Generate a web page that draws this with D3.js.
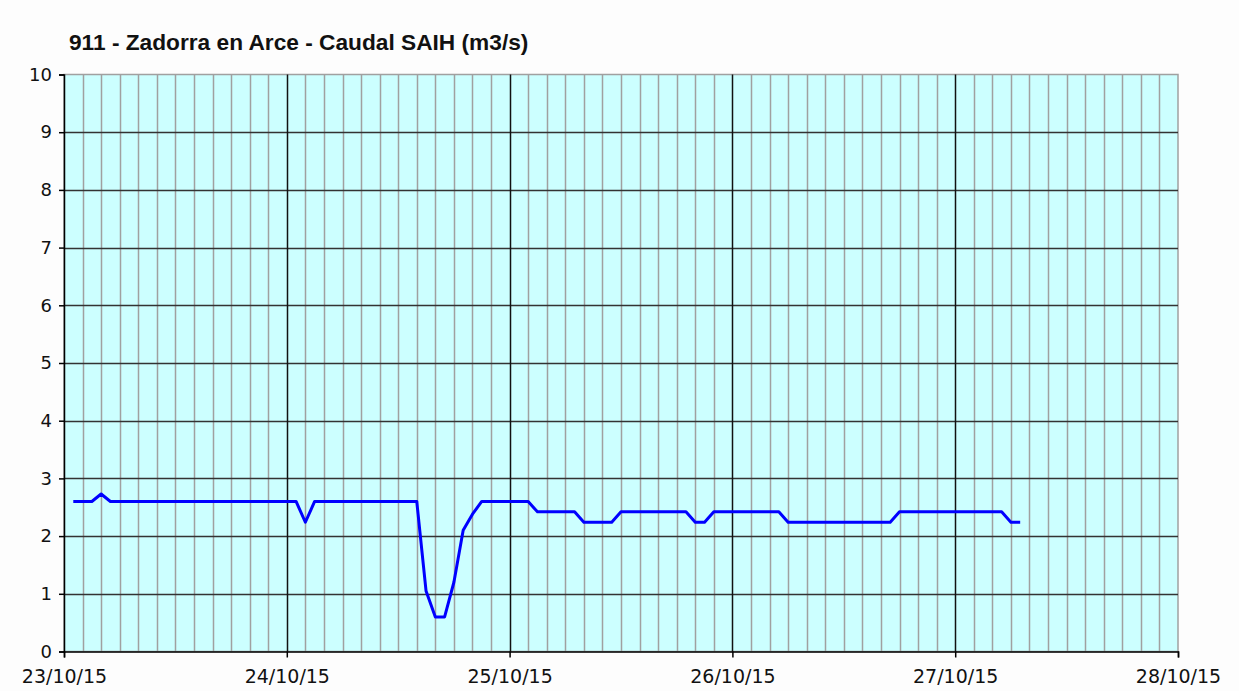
<!DOCTYPE html>
<html>
<head>
  <meta charset="utf-8">
  <title>911 - Zadorra en Arce</title>
  <style>
    body { margin: 0; background: #fdfdfd; }
    svg { display: block; }
  </style>
</head>
<body>
<script src="https://d3js.org/d3.v7.min.js"></script>
<script>
  var width = 1239;
  var height = 691;

  // caudal (m3/s), one reading per hour starting 23/10/15 01:00
  var startTime = new Date(2015, 9, 23, 1);
  var caudal = [
    2.6, 2.6, 2.6, 2.73, 2.6, 2.6, 2.6, 2.6, 2.6, 2.6,
    2.6, 2.6, 2.6, 2.6, 2.6, 2.6, 2.6, 2.6, 2.6, 2.6,
    2.6, 2.6, 2.6, 2.6, 2.6, 2.24, 2.6, 2.6, 2.6, 2.6,
    2.6, 2.6, 2.6, 2.6, 2.6, 2.6, 2.6, 2.6, 1.05, 0.6,
    0.6, 1.2, 2.1, 2.38, 2.6, 2.6, 2.6, 2.6, 2.6, 2.6,
    2.42, 2.42, 2.42, 2.42, 2.42, 2.24, 2.24, 2.24, 2.24, 2.42,
    2.42, 2.42, 2.42, 2.42, 2.42, 2.42, 2.42, 2.24, 2.24, 2.42,
    2.42, 2.42, 2.42, 2.42, 2.42, 2.42, 2.42, 2.24, 2.24, 2.24,
    2.24, 2.24, 2.24, 2.24, 2.24, 2.24, 2.24, 2.24, 2.24, 2.42,
    2.42, 2.42, 2.42, 2.42, 2.42, 2.42, 2.42, 2.42, 2.42, 2.42,
    2.42, 2.24, 2.24
  ];
  var yTicks = [0, 1, 2, 3, 4, 5, 6, 7, 8, 9, 10];
  var dayTicks = [
    new Date(2015, 9, 23), new Date(2015, 9, 24), new Date(2015, 9, 25),
    new Date(2015, 9, 26), new Date(2015, 9, 27), new Date(2015, 9, 28)
  ];
  var title = '911 - Zadorra en Arce - Caudal SAIH (m3/s)';

  var plotLeft = 64, plotRight = 1178, plotTop = 74.5, plotBottom = 651.5;

  var data = caudal.map(function(v, i) {
    return { t: d3.timeHour.offset(startTime, i), v: v };
  });

  var x = d3.scaleTime()
    .domain([dayTicks[0], dayTicks[dayTicks.length - 1]])
    .range([plotLeft, plotRight]);
  var y = d3.scaleLinear()
    .domain([0, 10])
    .range([plotBottom, plotTop]);

  var svg = d3.select('body')
    .append('svg')
      .attr('width', width)
      .attr('height', height);

  svg.append('rect')
    .attr('x', plotLeft)
    .attr('y', plotTop)
    .attr('width', plotRight - plotLeft)
    .attr('height', plotBottom - plotTop)
    .attr('fill', '#ccffff')
    .attr('stroke', '#a0a0a0')
    .attr('stroke-width', 1.5);

  // 2-hour grid
  var twoHours = d3.timeHour.every(2).range(dayTicks[0], dayTicks[dayTicks.length - 1]);
  svg.append('g')
    .selectAll('line')
    .data(twoHours.filter(function(d) { return d.getHours() !== 0; }))
    .enter().append('line')
      .attr('x1', function(d) { return Math.round(x(d)) + 0.5; })
      .attr('x2', function(d) { return Math.round(x(d)) + 0.5; })
      .attr('y1', plotTop)
      .attr('y2', plotBottom)
      .attr('stroke', '#a0a0a0')
      .attr('stroke-width', 1.5);

  // horizontal grid
  svg.append('g')
    .selectAll('line')
    .data(yTicks.slice(1, -1))
    .enter().append('line')
      .attr('x1', plotLeft)
      .attr('x2', plotRight)
      .attr('y1', function(d) { return Math.round(y(d)) + 0.5; })
      .attr('y2', function(d) { return Math.round(y(d)) + 0.5; })
      .attr('stroke', '#333333')
      .attr('stroke-width', 1.5);

  // day lines
  svg.append('g')
    .selectAll('line')
    .data(dayTicks.slice(1, -1))
    .enter().append('line')
      .attr('x1', function(d) { return Math.round(x(d)) + 0.5; })
      .attr('x2', function(d) { return Math.round(x(d)) + 0.5; })
      .attr('y1', plotTop)
      .attr('y2', plotBottom)
      .attr('stroke', '#111111')
      .attr('stroke-width', 1.5);

  var yAxis = d3.axisLeft(y)
    .tickValues(yTicks)
    .tickSize(5)
    .tickPadding(7);
  var gy = svg.append('g')
    .attr('transform', 'translate(' + plotLeft + ',0)')
    .call(yAxis);
  gy.select('.domain').attr('stroke', '#000').attr('stroke-width', 1.5);
  gy.selectAll('.tick line').attr('stroke', '#000').attr('stroke-width', 1.5);
  gy.selectAll('text')
    .attr('font-family', 'DejaVu Sans, Verdana, sans-serif')
    .attr('font-size', 18)
    .attr('fill', '#111');

  var xAxis = d3.axisBottom(x)
    .tickValues(dayTicks)
    .tickFormat(d3.timeFormat('%d/%m/%y'))
    .tickSize(6)
    .tickPadding(12);
  var gx = svg.append('g')
    .attr('transform', 'translate(0,' + plotBottom + ')')
    .call(xAxis);
  gx.select('.domain').attr('stroke', '#000').attr('stroke-width', 1.5);
  gx.selectAll('.tick line').attr('stroke', '#000').attr('stroke-width', 1.5);
  gx.selectAll('text')
    .attr('font-family', 'DejaVu Sans, Verdana, sans-serif')
    .attr('font-size', 19)
    .attr('fill', '#111');

  var line = d3.line()
    .x(function(d) { return x(d.t); })
    .y(function(d) { return y(d.v); });

  svg.append('path')
    .datum(data)
    .attr('fill', 'none')
    .attr('stroke', '#0000ff')
    .attr('stroke-width', 3)
    .attr('stroke-linejoin', 'round')
    .attr('d', line);

  svg.append('text')
    .attr('x', 69)
    .attr('y', 50)
    .attr('font-family', 'Liberation Sans, Arial, sans-serif')
    .attr('font-weight', 'bold')
    .attr('font-size', 22.7)
    .attr('fill', '#111')
    .text(title);
</script>
</body>
</html>
